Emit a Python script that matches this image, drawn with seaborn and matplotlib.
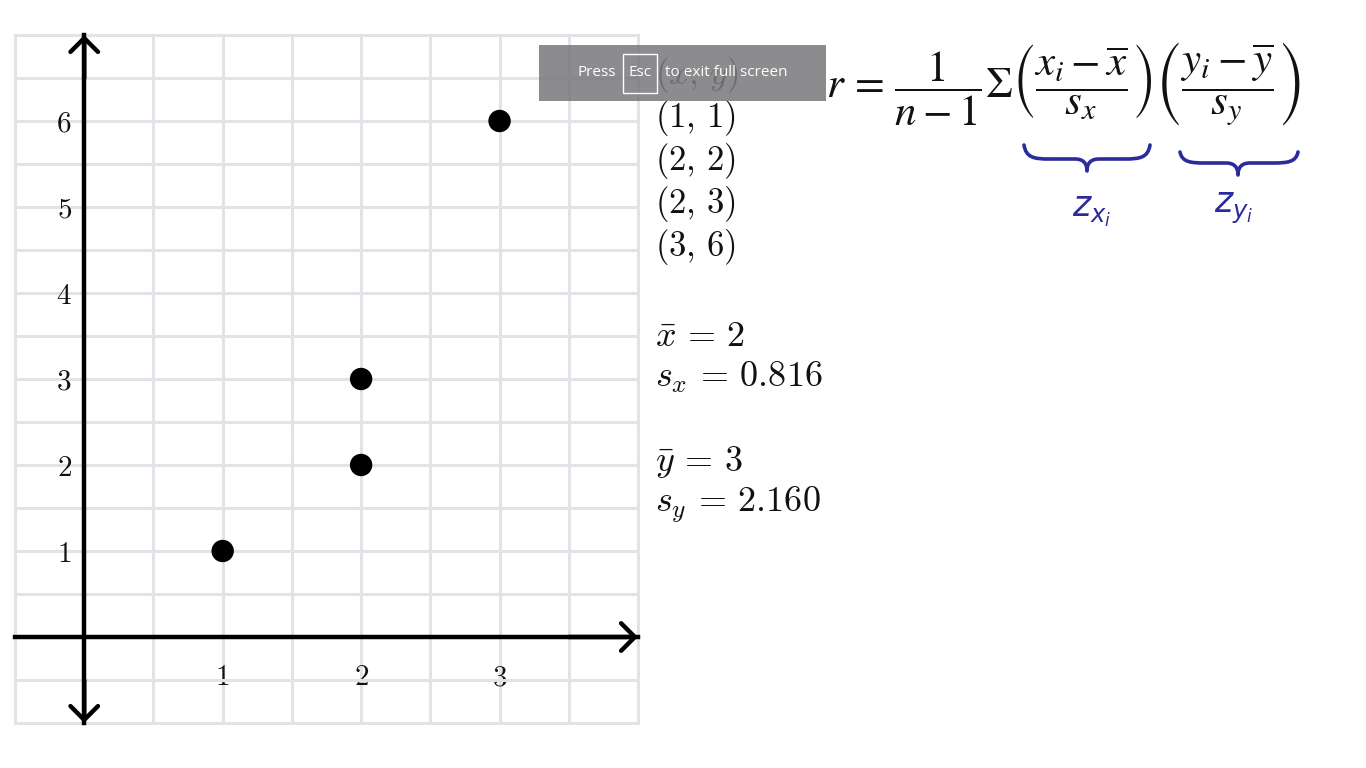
import matplotlib
matplotlib.use("Agg")
import matplotlib.pyplot as plt
import numpy as np
import seaborn as sns
from matplotlib.patches import Rectangle, PathPatch, ArrowStyle
from matplotlib.path import Path

# data points (x, y)
xs = [1, 2, 2, 3]
ys = [1, 2, 3, 6]

x_ticks = [1, 2, 3]
y_ticks = [1, 2, 3, 4, 5, 6]
x_lim = (-0.5, 4.0)
y_lim = (-1.0, 7.0)

# statistiques pour les textes de droite
x_mean = np.mean(xs)
y_mean = np.mean(ys)
s_x = np.std(xs, ddof=1)
s_y = np.std(ys, ddof=1)

sns.set_theme(style="white")
plt.rcParams["font.family"] = ["Open Sans", "DejaVu Sans"]
plt.rcParams["mathtext.fontset"] = "cm"

W, H = 1366, 768
fig = plt.figure(figsize=(W / 100, H / 100), dpi=100)
fig.patch.set_facecolor("white")

# ---------- graphique ----------
ax = fig.add_axes([15 / W, (H - 723) / H, 623 / W, 688 / H])
ax.set_facecolor("white")
ax.set_xlim(*x_lim)
ax.set_ylim(*y_lim)

grid_c = "#e2e2e7"
ax.set_xticks(np.arange(x_lim[0], x_lim[1] + 0.01, 0.5), minor=True)
ax.set_yticks(np.arange(y_lim[0], y_lim[1] + 0.01, 0.5), minor=True)
ax.set_xticks(x_ticks)
ax.set_yticks(y_ticks)
ax.grid(which="both", color=grid_c, lw=2.2)
ax.tick_params(which="minor", length=0)
ax.add_patch(Rectangle((0, 0), 1, 1, transform=ax.transAxes, fill=False,
                       ec=grid_c, lw=2.2, clip_on=False, zorder=0.5))

for side in ["top", "right"]:
    ax.spines[side].set_visible(False)
for side in ["left", "bottom"]:
    ax.spines[side].set_position(("data", 0))
    ax.spines[side].set_color("black")
    ax.spines[side].set_linewidth(3.2)
    ax.spines[side].set_zorder(3)

ax.set_xticklabels([f"${v}$" for v in x_ticks])
ax.set_yticklabels([f"${v}$" for v in y_ticks])
ax.tick_params(axis="both", which="major", direction="inout", length=16,
               width=1.3, color="black", labelsize=21, labelcolor="#111111")
ax.tick_params(axis="x", pad=11)
ax.tick_params(axis="y", pad=1)

# fleches (chevrons) au bout des axes
head = ArrowStyle("->", head_length=0.55, head_width=0.55)
arrow_kw = dict(arrowstyle=head, lw=3.2, color="black", mutation_scale=18,
                shrinkA=0, shrinkB=0)
ax.annotate("", xy=(0, y_lim[1]), xytext=(0, y_lim[1] - 0.5), arrowprops=arrow_kw)
ax.annotate("", xy=(0, y_lim[0]), xytext=(0, y_lim[0] + 0.5), arrowprops=arrow_kw)
ax.annotate("", xy=(x_lim[1], 0), xytext=(x_lim[1] - 0.5, 0), arrowprops=arrow_kw)

sns.scatterplot(x=xs, y=ys, ax=ax, s=260, color="black", edgecolor="none",
                zorder=5, clip_on=False, legend=False)
ax.set_xlabel("")
ax.set_ylabel("")

# ---------- textes a droite (coordonnees en pixels) ----------
ov = fig.add_axes([0, 0, 1, 1])
ov.set_xlim(0, W)
ov.set_ylim(H, 0)
ov.axis("off")
ov.patch.set_alpha(0)

txt_c = "#111111"
pair_labels = [r"$(x,\,y)$"] + [f"$({x},\\,{y})$" for x, y in zip(xs, ys)]
for i, lab in enumerate(pair_labels):
    ov.text(655, 75 + 43 * i, lab, fontsize=25, color=txt_c, va="center", ha="left")

stats = [
    (337, r"$\bar{x}\,=\,%g$" % x_mean),
    (378, r"$s_x\,=\,%.3f$" % s_x),
    (462, r"$\bar{y}\,=\,%g$" % y_mean),
    (505, r"$s_y\,=\,%.3f$" % s_y),
]
for y, lab in stats:
    ov.text(655, y, lab, fontsize=26, color=txt_c, va="center", ha="left")

formula = (r"$r\, =\, \dfrac{1}{n-1}\Sigma\left(\dfrac{x_i - \overline{x}}{s_x}\right)"
           r"\left(\dfrac{y_i - \overline{y}}{s_y}\right)$")
ov.text(826, 84, formula, fontsize=31, color=txt_c, va="center", ha="left",
        math_fontfamily="stix")


def brace(x0, x1, y0, h, xm, color):
    verts = [
        (x0, y0),
        (x0 + 2, y0 + h * 0.9), (x0 + 10, y0 + h), (x0 + 25, y0 + h),
        (xm - 12, y0 + h),
        (xm - 4, y0 + h), (xm, y0 + h + 4), (xm, y0 + h + 12),
        (xm, y0 + h + 4), (xm + 4, y0 + h), (xm + 12, y0 + h),
        (x1 - 25, y0 + h),
        (x1 - 10, y0 + h), (x1 - 2, y0 + h * 0.9), (x1, y0),
    ]
    codes = ([Path.MOVETO] + [Path.CURVE4] * 3 + [Path.LINETO] + [Path.CURVE4] * 6
             + [Path.LINETO] + [Path.CURVE4] * 3)
    ov.add_patch(PathPatch(Path(verts, codes), fill=False, ec=color, lw=2.6,
                           capstyle="round", joinstyle="round"))


blue = "#2b2b9c"
brace(1024, 1150, 145, 14, 1087, blue)
brace(1180, 1298, 152, 11, 1238, blue)
ov.text(1092, 212, r"$z_{x_i}$", fontsize=25, color=blue, ha="center", va="center",
        math_fontfamily="dejavusans")
ov.text(1234, 208, r"$z_{y_i}$", fontsize=25, color=blue, ha="center", va="center",
        math_fontfamily="dejavusans")

# bandeau "Press Esc to exit full screen"
ov.add_patch(Rectangle((539, 45), 287, 56, fc="#7c7c80", ec="none", alpha=0.88, zorder=10))
ov.add_patch(Rectangle((623, 54), 34, 39, fill=False, ec="white", lw=1, zorder=11))
ov.text(597, 73, "Press", color="white", fontsize=11, ha="center", va="center", zorder=12)
ov.text(640, 73, "Esc", color="white", fontsize=11, ha="center", va="center", zorder=12)
ov.text(665, 73, "to exit full screen", color="white", fontsize=11, ha="left",
        va="center", zorder=12)

fig.savefig("out.png", dpi=100, facecolor="white")
